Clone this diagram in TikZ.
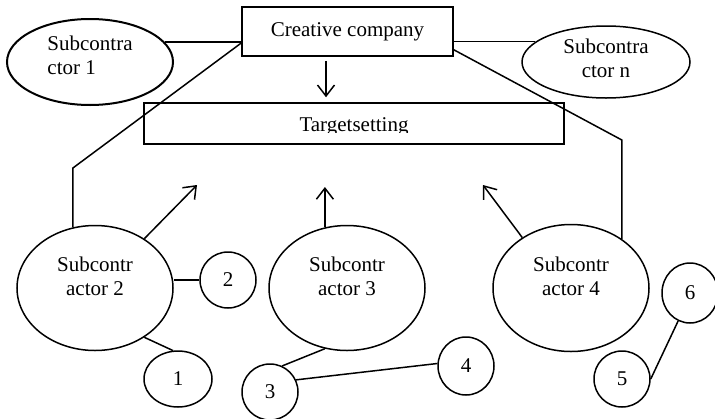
\documentclass[tikz,border=0pt]{standalone}
\usepackage{fontspec}
\setmainfont{Liberation Serif}
\usepackage{tikz}
\usetikzlibrary{arrows.meta, shapes.geometric}

\begin{document}
\begin{tikzpicture}[x=1pt, y=-1pt, line width=1.5pt,
        txt/.style={font=\fontsize{21}{24}\selectfont},
        box/.style={rectangle, draw, inner sep=0pt, txt},
        sub/.style={ellipse, draw, inner sep=0pt, minimum width=156pt, minimum height=125pt},
        subtext/.style={txt, align=center},
        num/.style={ellipse, draw, inner sep=0pt, minimum width=56pt, minimum height=56pt, txt},
        line/.style={draw},
        arrow/.style={draw, -{Straight Barb[length=11pt, width=17pt]}}]

        \clip (0,0) rectangle (715,418);

        \node [box, minimum width=211pt, minimum height=49pt] (company) at (347.5,31.5) {Creative company};
        \node [box, minimum width=420pt, minimum height=41pt] (target) at (354,123.5) {};
        \begin{scope}
            \clip (target.north west) rectangle ([yshift=12.5pt]target.south east);
            \node [txt, anchor=base] (targettext) at (target.center |- 0,131.5) {Targetsetting};
        \end{scope}

        \node [ellipse, draw, line width=2pt, minimum width=166pt, minimum height=86pt,
            label={[subtext, align=left, yshift=7pt]center:Subcontra\\ctor 1}] (sub1) at (90,62) {};
        \node [ellipse, draw, minimum width=168pt, minimum height=72pt,
            label={[subtext, yshift=4pt]center:Subcontra\\ctor n}] (subn) at (606,62) {};

        \node [sub, label={[subtext, yshift=12pt]center:Subcontr\\actor 2}] (sub2) at (95,288) {};
        \node [sub, label={[subtext, yshift=12pt]center:Subcontr\\actor 3}] (sub3) at (347,288) {};
        \node [sub, minimum height=127pt, label={[subtext, yshift=12pt]center:Subcontr\\actor 4}] (sub4) at (571,288) {};

        \node [num, minimum width=68pt] (n1) at (178,379) {1};
        \node [num] (n2) at (228,280) {2};
        \node [num] (n3) at (270,392) {3};
        \node [num, minimum height=58pt] (n4) at (466,366) {4};
        \node [num] (n5) at (622,379) {5};
        \node [num, minimum height=60pt] (n6) at (690,293) {6};

        \coordinate (tip2) at (197,185);
        \coordinate (tip4) at (483,185);

        \path [line] (sub1.15) -- (sub1.15 -| company.west);
        \path [line] (company.east |- subn.164) -- (subn.164);
        \path [line] ([yshift=-11.5pt]company.west) -- (sub2.110 |- 0,168) -- (sub2.110);
        \path [line] ([yshift=7pt]company.south east) -- (sub4.44 |- 0,140) -- (sub4.44);

        \path [arrow, shorten <=4pt, shorten >=5pt] ([xshift=-21.5pt]company.south) -- ([xshift=-21.5pt]company.south |- target.north);
        \path [arrow] (sub2.45) -- (tip2);
        \path [arrow] (sub3.110) -- (sub3.110 |- 0,187);
        \path [arrow] (sub4.134) -- (tip4);

        \path [line] (n2.west) -- (n2.west -| sub2.east);
        \path [line] (sub2.-45) -- (n1.100);
        \path [line] (sub3.-110) -- (n3.65);
        \path [line] (n3.25) -- (n4.175);
        \path [line] (n5.east) -- (n6.-113);
    \end{tikzpicture}
\end{document}
